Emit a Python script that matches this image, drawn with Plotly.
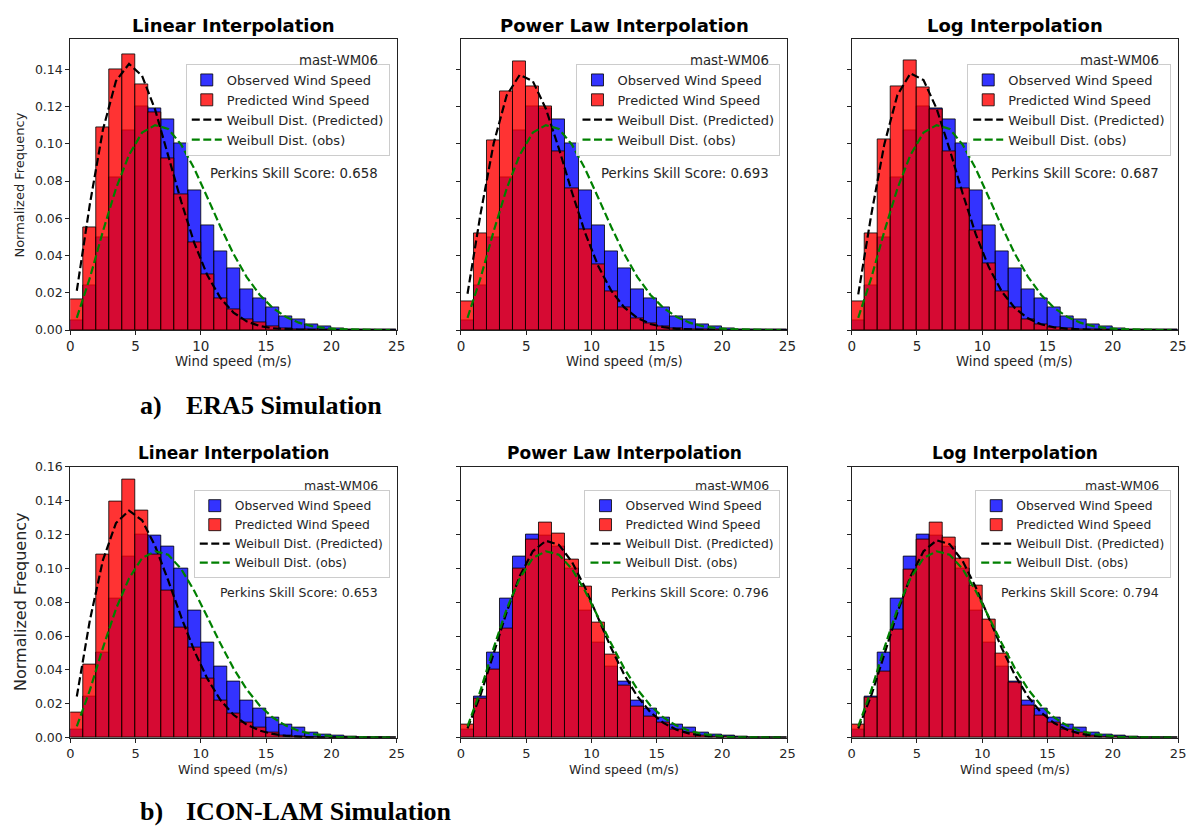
import plotly.graph_objects as go

# ---------------------------------------------------------------------------
# Data: normalized wind-speed histograms (1 m/s bins) at mast-WM06
# ---------------------------------------------------------------------------
wind_bins = [0.5, 1.5, 2.5, 3.5, 4.5, 5.5, 6.5, 7.5, 8.5, 9.5, 10.5, 11.5, 12.5,
             13.5, 14.5, 15.5, 16.5, 17.5, 18.5, 19.5, 20.5, 21.5, 22.5, 23.5, 24.5]
bin_width = 1.0
speed_ticks = [0, 5, 10, 15, 20, 25]

observed_freq = [0.005, 0.024, 0.050, 0.082, 0.107, 0.120, 0.119, 0.113, 0.100, 0.075,
                 0.056, 0.042, 0.033, 0.022, 0.017, 0.012, 0.0075, 0.006, 0.003, 0.002,
                 0.001, 0.0006, 0.0003, 0.0002, 0.0001]

era5_linear_pred = [0.0165, 0.055, 0.109, 0.140, 0.148, 0.132, 0.117, 0.092, 0.073, 0.047,
                    0.030, 0.017, 0.011, 0.0055, 0.004, 0.002, 0.001, 0.0005, 0.0002, 0.0001,
                    0, 0, 0, 0, 0]
era5_power_pred = [0.0154, 0.052, 0.102, 0.128, 0.144, 0.131, 0.120, 0.096, 0.076, 0.054,
                   0.035, 0.021, 0.012, 0.0065, 0.0035, 0.0018, 0.0009, 0.0004, 0.0002, 0.0001,
                   0, 0, 0, 0, 0]
era5_log_pred = [0.0153, 0.052, 0.1026, 0.1307, 0.145, 0.130, 0.1185, 0.096, 0.076, 0.0535,
                 0.036, 0.021, 0.0123, 0.006, 0.0033, 0.0016, 0.0008, 0.0004, 0.0002, 0.0001,
                 0, 0, 0, 0, 0]
icon_linear_pred = [0.0147, 0.043, 0.108, 0.1395, 0.1525, 0.134, 0.108, 0.087, 0.065, 0.053,
                    0.035, 0.022, 0.014, 0.009, 0.006, 0.003, 0.0015, 0.0007, 0.0003, 0.0001,
                    0, 0, 0, 0, 0]
icon_power_pred = [0.0075, 0.023, 0.040, 0.0645, 0.100, 0.117, 0.127, 0.1205, 0.105, 0.089,
                   0.068, 0.049, 0.031, 0.0186, 0.0124, 0.0087, 0.0048, 0.003, 0.0015, 0.0008,
                   0.0004, 0.0002, 0.0001, 0, 0]
icon_log_pred = [0.0075, 0.0234, 0.039, 0.0636, 0.0993, 0.1167, 0.127, 0.118, 0.1057, 0.0897,
                 0.0698, 0.0497, 0.0327, 0.019, 0.0133, 0.0088, 0.0048, 0.003, 0.0015, 0.0008,
                 0.0004, 0.0002, 0.0001, 0, 0]

# Fitted Weibull densities, sampled at the bin centres
weibull_obs = [0.0066, 0.028, 0.053, 0.076, 0.094, 0.106, 0.110, 0.108, 0.0995, 0.0866,
               0.0712, 0.0555, 0.0409, 0.0286, 0.019, 0.0119, 0.0071, 0.0040, 0.0021, 0.0011,
               0.0005, 0.00024, 0.0001, 0.00004, 0.00001]
weibull_era5_linear = [0.0211, 0.0676, 0.1075, 0.1337, 0.1429, 0.1364, 0.1183, 0.0940, 0.0689,
                       0.0467, 0.0294, 0.0172, 0.0094, 0.0047, 0.0022, 0.001, 0.0004, 0.00015,
                       0.00005, 0.00002, 0.00001, 0, 0, 0, 0]
weibull_era5_power = [0.0195, 0.0625, 0.1001, 0.1260, 0.1370, 0.1336, 0.1188, 0.0974, 0.0740,
                      0.0523, 0.0345, 0.0212, 0.0122, 0.0066, 0.0033, 0.0016, 0.0007, 0.0003,
                      0.0001, 0.00004, 0.00001, 0, 0, 0, 0]
weibull_era5_log = [0.0192, 0.0620, 0.0998, 0.1262, 0.1378, 0.1342, 0.1189, 0.0970, 0.0733,
                    0.0515, 0.0338, 0.0206, 0.0118, 0.0063, 0.0031, 0.0015, 0.0007, 0.0003,
                    0.0001, 0.00004, 0.00001, 0, 0, 0, 0]
weibull_icon_linear = [0.0243, 0.0693, 0.1048, 0.1267, 0.1340, 0.1283, 0.1131, 0.0928, 0.0711,
                       0.0512, 0.0348, 0.0222, 0.0135, 0.0077, 0.0042, 0.0022, 0.0010, 0.0005,
                       0.0002, 0.00009, 0.00003, 0.00001, 0, 0, 0]
weibull_icon_power = [0.0055, 0.0252, 0.0496, 0.0742, 0.0954, 0.1100, 0.1162, 0.1138, 0.1038,
                      0.0886, 0.0707, 0.0529, 0.0372, 0.0244, 0.0151, 0.0087, 0.0047, 0.0024,
                      0.0011, 0.0005, 0.0002, 0.00007, 0.00002, 0, 0]
weibull_icon_log = [0.0054, 0.0249, 0.0492, 0.0738, 0.0951, 0.1100, 0.1165, 0.1142, 0.1042,
                    0.0888, 0.0707, 0.0527, 0.0369, 0.0242, 0.0149, 0.0086, 0.0046, 0.0023,
                    0.0011, 0.0005, 0.0002, 0.00007, 0.00002, 0, 0]

perkins_scores = [0.658, 0.693, 0.687, 0.653, 0.796, 0.794]
panel_titles = ["Linear Interpolation", "Power Law Interpolation", "Log Interpolation"] * 2
predicted_sets = [era5_linear_pred, era5_power_pred, era5_log_pred,
                  icon_linear_pred, icon_power_pred, icon_log_pred]
weibull_pred_sets = [weibull_era5_linear, weibull_era5_power, weibull_era5_log,
                     weibull_icon_linear, weibull_icon_power, weibull_icon_log]
station = "mast-WM06"
row_labels = [("a)", "ERA5 Simulation"), ("b)", "ICON-LAM Simulation")]

y_ticks_top = [0.00, 0.02, 0.04, 0.06, 0.08, 0.10, 0.12, 0.14]
y_ticks_bottom = [0.00, 0.02, 0.04, 0.06, 0.08, 0.10, 0.12, 0.14, 0.16]
y_max = [0.156, 0.16]

# ---------------------------------------------------------------------------
# Layout geometry (pixels)
# ---------------------------------------------------------------------------
W, H = 1199, 834
col_px = [(67, 397), (462, 792), (857, 1187)]
row_px = [(32, 328), (467, 743)]
text_size = [13.3, 12.5]
legend_size = [13, 12.3]
legend_top = [25, 24]


def px_x(px):
    return px / W


def px_y(py):
    return 1 - py / H


SANS = "DejaVu Sans"
SERIF = "Liberation Serif"
TXT = "#262626"

fig = go.Figure()
annotations = []
layout = dict(
    width=W, height=H, autosize=False,
    margin=dict(l=0, r=0, t=0, b=0),
    paper_bgcolor="white", plot_bgcolor="white",
    barmode="overlay", bargap=0,
)

for i in range(6):
    r, c = divmod(i, 3)
    sfx = "" if i == 0 else str(i + 1)
    xname, yname = "x" + sfx, "y" + sfx
    legend_name = "legend" + sfx
    x0, x1 = col_px[c]
    y0, y1 = row_px[r]
    fs = text_size[r]

    common = dict(xaxis=xname, yaxis=yname, legend=legend_name)
    fig.add_trace(go.Bar(
        x=wind_bins, y=observed_freq, width=bin_width, name="Observed Wind Speed",
        marker=dict(color="rgba(0,0,255,0.8)", line=dict(color="rgba(0,0,0,0.8)", width=1)),
        legendgroup="obs%d" % i, **common))
    fig.add_trace(go.Bar(
        x=wind_bins, y=predicted_sets[i], width=bin_width, name="Predicted Wind Speed",
        marker=dict(color="rgba(255,0,0,0.8)", line=dict(color="rgba(0,0,0,0.8)", width=1)),
        legendgroup="pred%d" % i, **common))
    fig.add_trace(go.Scatter(
        x=wind_bins, y=weibull_pred_sets[i], mode="lines", name="Weibull Dist. (Predicted)",
        line=dict(color="black", width=2.2, dash="8px,3.5px"),
        legendgroup="wp%d" % i, **common))
    fig.add_trace(go.Scatter(
        x=wind_bins, y=weibull_obs, mode="lines", name="Weibull Dist. (obs)",
        line=dict(color="green", width=2.2, dash="8px,3.5px"),
        legendgroup="wo%d" % i, **common))

    layout["xaxis" + sfx] = dict(
        domain=[px_x(x0), px_x(x1)], anchor=yname, range=[0, 25],
        tickvals=speed_ticks, ticks="outside", ticklen=4, tickwidth=1, tickcolor="#222",
        showline=True, linecolor="#222", linewidth=1, mirror=True,
        showgrid=False, zeroline=False,
        tickfont=dict(family=SANS, size=13.5 if r == 0 else 13, color=TXT),
    )
    layout["yaxis" + sfx] = dict(
        domain=[px_y(y1), px_y(y0)], anchor=xname, range=[0, y_max[r]],
        tickvals=y_ticks_top if r == 0 else y_ticks_bottom, tickformat=".2f",
        ticks="outside", ticklen=4, tickwidth=1, tickcolor="#222",
        showticklabels=(c == 0),
        showline=True, linecolor="#222", linewidth=1, mirror=True,
        showgrid=False, zeroline=False,
        tickfont=dict(family=SANS, size=12.5, color=TXT),
    )
    layout[legend_name] = dict(
        x=px_x(x1 - 7), y=px_y(y0 + legend_top[r]),
        xanchor="right", yanchor="top",
        bgcolor="rgba(255,255,255,0.8)", bordercolor="#cccccc", borderwidth=1,
        font=dict(family=SANS, size=legend_size[r], color=TXT),
        traceorder="normal", tracegroupgap=0,
    )

    # panel title
    annotations.append(dict(
        text="<b>%s</b>" % panel_titles[i], xref="paper", yref="paper",
        x=px_x((x0 + x1) / 2), y=px_y(18 if r == 0 else 453),
        xanchor="center", yanchor="middle", showarrow=False,
        font=dict(family=SANS, size=18 if r == 0 else 17, color="black")))
    # station tag
    annotations.append(dict(
        text=station, xref="paper", yref="paper",
        x=px_x(x1 - 17), y=px_y(y0 + (21 if r == 0 else 19)),
        xanchor="right", yanchor="middle", showarrow=False,
        font=dict(family=SANS, size=fs, color=TXT)))
    # skill score
    annotations.append(dict(
        text="Perkins Skill Score: %.3f" % perkins_scores[i], xref="paper", yref="paper",
        x=px_x(x1 - 17), y=px_y(y0 + (137 if r == 0 else 128)),
        xanchor="right", yanchor="middle", showarrow=False,
        font=dict(family=SANS, size=fs, color=TXT)))
    # x-axis title
    annotations.append(dict(
        text="Wind speed (m/s)", xref="paper", yref="paper",
        x=px_x((x0 + x1) / 2), y=px_y(360 if r == 0 else 775),
        xanchor="center", yanchor="middle", showarrow=False,
        font=dict(family=SANS, size=13.3 if r == 0 else 12.5, color=TXT)))

# y-axis titles on the left column
for r in range(2):
    y0, y1 = row_px[r]
    annotations.append(dict(
        text="Normalized Frequency", xref="paper", yref="paper",
        x=px_x(16), y=px_y((y0 + y1) / 2), textangle=-90,
        xanchor="center", yanchor="middle", showarrow=False,
        font=dict(family=SANS, size=13 if r == 0 else 16, color=TXT)))

# row captions
for r, (tag, caption) in enumerate(row_labels):
    yc = 405 if r == 0 else 818
    annotations.append(dict(
        text="<b>%s</b>" % tag, xref="paper", yref="paper",
        x=px_x(135), y=px_y(yc), xanchor="left", yanchor="middle", showarrow=False,
        font=dict(family=SERIF, size=26, color="black")))
    annotations.append(dict(
        text="<b>%s</b>" % caption, xref="paper", yref="paper",
        x=px_x(182), y=px_y(yc), xanchor="left", yanchor="middle", showarrow=False,
        font=dict(family=SERIF, size=26, color="black")))

layout["annotations"] = annotations
fig.update_layout(**layout)
fig.write_html("out.html")
